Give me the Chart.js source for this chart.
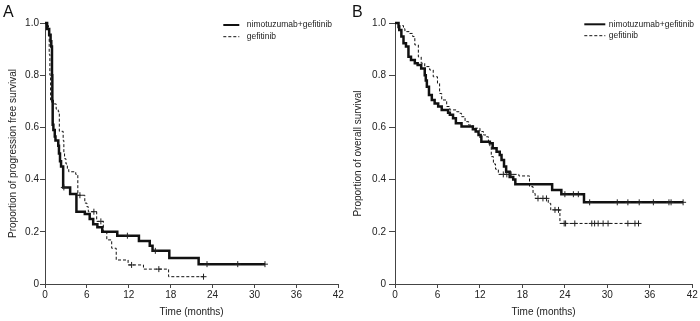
<!DOCTYPE html>
<html>
<head>
<meta charset="utf-8">
<script src="https://cdn.jsdelivr.net/npm/chart.js@4.4.1/dist/chart.umd.min.js"></script>
<style>
html, body { margin: 0; padding: 0; background: #fff; }
#wrap { position: relative; width: 700px; height: 321px; overflow: hidden; }
.panel { position: absolute; top: 0; width: 350px; height: 321px; }
.tag { position: absolute; top: 3px; font: 16px "Liberation Sans", Arial, sans-serif; color: #111; }
</style>
</head>
<body>
<div id="wrap">
  <div class="panel" style="left:0"><canvas id="chartA" width="350" height="321"></canvas></div>
  <div class="panel" style="left:350px"><canvas id="chartB" width="350" height="321"></canvas></div>
  <div class="tag" style="left:3px">A</div>
  <div class="tag" style="left:352px">B</div>
</div>
<script>
// tick labels
const timeTicks = [0, 6, 12, 18, 24, 30, 36, 42];
const propTicks = ['0', '0.2', '0.4', '0.6', '0.8', '1.0'];
const seriesNames = ['nimotuzumab+gefitinib', 'gefitinib'];

// panel A - progression free survival
const pfsNimoTime = [0, 0.3, 0.6, 0.8, 0.9, 1.0, 1.05, 1.1, 1.2, 1.4, 1.5, 1.9, 2.0, 2.15, 2.3, 2.6, 3.6, 4.5, 5.7, 6.4, 6.9, 7.5, 8.2, 10.35, 13.45, 15.0, 15.4, 17.8, 22.0, 31.5];
const pfsNimoSurv = [1.0, 0.977, 0.955, 0.93, 0.91, 0.80, 0.70, 0.61, 0.59, 0.565, 0.55, 0.53, 0.50, 0.47, 0.45, 0.37, 0.345, 0.277, 0.268, 0.249, 0.229, 0.217, 0.20, 0.185, 0.165, 0.147, 0.127, 0.10, 0.076, 0.076];
const pfsNimoCens = [2.7, 11.8, 15.8, 23.2, 27.6, 31.5];

const pfsGefTime = [0, 0.4, 0.5, 0.6, 0.7, 0.8, 1.2, 1.6, 1.9, 2.05, 2.6, 2.7, 2.8, 3.0, 3.2, 3.4, 4.4, 4.7, 5.7, 6.0, 6.2, 7.4, 8.35, 8.85, 9.55, 10.2, 11.9, 14.1, 17.7, 22.7];
const pfsGefSurv = [1.0, 0.99, 0.95, 0.88, 0.80, 0.705, 0.69, 0.67, 0.66, 0.585, 0.55, 0.50, 0.48, 0.46, 0.44, 0.43, 0.42, 0.34, 0.31, 0.296, 0.277, 0.24, 0.20, 0.169, 0.137, 0.092, 0.073, 0.057, 0.028, 0.028];
const pfsGefCens = [5.0, 7.0, 8.0, 12.4, 16.3, 22.7];

// panel B - overall survival
const osNimoTime = [0, 0.5, 0.6, 0.9, 1.2, 1.55, 1.9, 2.26, 2.8, 3.2, 3.7, 4.2, 4.35, 4.5, 4.8, 5.2, 5.6, 6.1, 6.6, 7.5, 7.75, 8.2, 8.6, 9.4, 11.0, 11.4, 11.8, 12.1, 12.2, 13.4, 13.8, 14.35, 14.8, 15.05, 15.4, 15.7, 16.2, 16.7, 17.0, 22.2, 23.5, 26.7, 40.7];
const osNimoSurv = [1.0, 0.985, 0.973, 0.948, 0.922, 0.91, 0.871, 0.858, 0.846, 0.839, 0.826, 0.80, 0.78, 0.756, 0.724, 0.705, 0.692, 0.68, 0.667, 0.656, 0.648, 0.635, 0.616, 0.603, 0.593, 0.584, 0.571, 0.564, 0.545, 0.539, 0.52, 0.507, 0.494, 0.475, 0.45, 0.43, 0.41, 0.40, 0.382, 0.36, 0.344, 0.313, 0.313];
const osNimoCens = [24.0, 25.2, 25.9, 27.5, 31.4, 32.9, 34.5, 36.5, 38.7, 39.0, 40.7];

const osGefTime = [0, 0.5, 1.2, 1.4, 2.0, 2.5, 2.8, 3.3, 3.7, 4.2, 4.9, 5.4, 6.0, 6.3, 6.6, 7.3, 7.75, 8.7, 9.15, 9.4, 9.9, 10.4, 11.0, 12.0, 12.5, 12.9, 13.2, 13.4, 13.6, 13.9, 14.2, 14.6, 17.5, 19.0, 19.5, 19.8, 21.65, 22.0, 23.3, 34.4];
const osGefSurv = [1.0, 0.99, 0.978, 0.967, 0.96, 0.948, 0.916, 0.87, 0.846, 0.833, 0.82, 0.794, 0.769, 0.73, 0.705, 0.68, 0.667, 0.66, 0.654, 0.641, 0.622, 0.609, 0.597, 0.584, 0.571, 0.564, 0.545, 0.526, 0.488, 0.46, 0.44, 0.42, 0.414, 0.373, 0.347, 0.328, 0.309, 0.284, 0.232, 0.232];
const osGefCens = [15.3, 15.8, 16.4, 20.2, 20.9, 21.4, 22.6, 23.1, 23.9, 24.1, 25.4, 27.8, 28.2, 28.7, 29.4, 30.1, 32.9, 33.9, 34.4];

Chart.defaults.font.family = '"Liberation Sans", Arial, sans-serif';
Chart.defaults.color = '#222';

function survAt(times, surv, t) {
  let s = surv[0];
  for (let i = 0; i < times.length; i++) {
    if (times[i] <= t) s = surv[i];
  }
  return s;
}

function curve(label, times, surv, width, dash, order) {
  return {
    label: label,
    inLegend: true,
    data: times.map((t, i) => ({ x: t, y: surv[i] })),
    stepped: 'before',
    borderColor: '#111',
    borderWidth: width,
    borderDash: dash,
    pointRadius: 0,
    fill: false,
    clip: 5,
    order: order
  };
}

function marks(times, surv, cens, order) {
  return {
    label: '',
    type: 'scatter',
    data: cens.map(t => ({ x: t, y: survAt(times, surv, t) })),
    pointStyle: 'cross',
    pointRadius: 3,
    pointBorderWidth: 1,
    borderColor: '#222',
    clip: 5,
    order: order
  };
}

const kmLegend = {
  id: 'kmLegend',
  afterDraw(chart, args, o) {
    const ctx = chart.ctx;
    const x0 = chart.chartArea.right - o.fromRight;
    const items = chart.data.datasets.filter(d => d.inLegend);
    ctx.save();
    items.forEach((d, i) => {
      const y = o.top + i * o.gap;
      ctx.beginPath();
      ctx.strokeStyle = '#111';
      ctx.lineWidth = d.borderWidth === 1 ? 1 : 2;
      ctx.setLineDash(d.borderDash);
      ctx.moveTo(x0, y);
      ctx.lineTo(x0 + o.lineLen, y);
      ctx.stroke();
      ctx.setLineDash([]);
      ctx.fillStyle = '#222';
      ctx.font = '8.5px "Liberation Sans", Arial, sans-serif';
      ctx.textBaseline = 'middle';
      ctx.fillText(d.label, x0 + o.lineLen + o.textGap, y);
    });
    ctx.restore();
  }
};

function makeChart(id, sets, yTitle, cfg) {
  return new Chart(document.getElementById(id), {
    type: 'line',
    data: { datasets: sets },
    plugins: [kmLegend],
    options: {
      responsive: false,
      animation: false,
      events: [],
      layout: { padding: { top: 23, right: cfg.right, left: 0, bottom: 0 } },
      plugins: {
        legend: { display: false },
        tooltip: { enabled: false },
        kmLegend: cfg.legend
      },
      scales: {
        x: {
          type: 'linear',
          min: 0,
          max: 42,
          afterBuildTicks: s => { s.ticks = timeTicks.map(v => ({ value: v })); },
          ticks: { font: { size: 10 }, color: '#222', padding: 1, maxRotation: 0, callback: v => String(v) },
          grid: { drawOnChartArea: false, drawTicks: true, tickLength: 4, color: '#444' },
          border: { color: '#444', width: 1 },
          title: { display: true, text: 'Time (months)', font: { size: 10 }, color: '#222', padding: { top: 0, bottom: 3 } },
          afterFit: s => { s.height = 37; }
        },
        y: {
          min: 0,
          max: 1,
          afterBuildTicks: s => { s.ticks = propTicks.map(v => ({ value: parseFloat(v) })); },
          ticks: { font: { size: 10 }, color: '#222', padding: cfg.tickPad, callback: (v, i) => propTicks[i] },
          grid: { drawOnChartArea: false, drawTicks: true, tickLength: cfg.tickLen, color: '#444' },
          border: { color: '#444', width: 1 },
          title: { display: true, text: yTitle, font: { size: 10 }, color: '#222', padding: { top: cfg.titlePad, bottom: 0 } },
          afterFit: s => { s.width = 45; }
        }
      }
    }
  });
}

makeChart('chartA', [
  curve(seriesNames[0], pfsNimoTime, pfsNimoSurv, 2.5, [], 1),
  curve(seriesNames[1], pfsGefTime, pfsGefSurv, 1, [3, 2], 2),
  marks(pfsNimoTime, pfsNimoSurv, pfsNimoCens, 0),
  marks(pfsGefTime, pfsGefSurv, pfsGefCens, 0)
], 'Proportion of progression free survival',
  { right: 11.7, tickPad: 1, tickLen: 5, titlePad: 7,
    legend: { fromRight: 115, lineLen: 16, textGap: 7.5, top: 25, gap: 11.7 } });

makeChart('chartB', [
  curve(seriesNames[0], osNimoTime, osNimoSurv, 2.5, [], 1),
  curve(seriesNames[1], osGefTime, osGefSurv, 1, [3, 2], 2),
  marks(osNimoTime, osNimoSurv, osNimoCens, 0),
  marks(osGefTime, osGefSurv, osGefCens, 0)
], 'Proportion of overall survival',
  { right: 7.7, tickPad: 3, tickLen: 6, titlePad: 2.5,
    legend: { fromRight: 108, lineLen: 21, textGap: 3.5, top: 24.3, gap: 11.4 } });
</script>
</body>
</html>
